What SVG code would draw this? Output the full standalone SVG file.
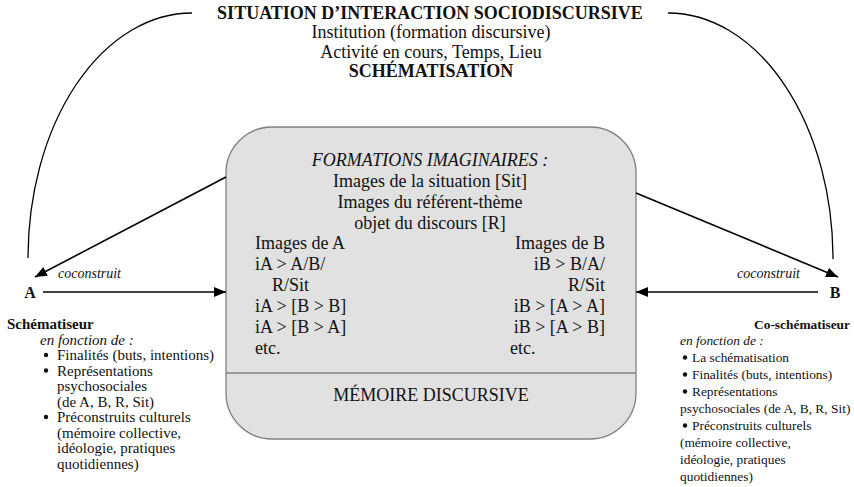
<svg xmlns="http://www.w3.org/2000/svg" width="854" height="487" viewBox="0 0 854 487">
<defs>
<marker id="ah" viewBox="0 0 12 10" refX="12" refY="5" markerWidth="12" markerHeight="10" markerUnits="userSpaceOnUse" orient="auto">
<path d="M0,0 L12,5 L0,10 Z" fill="#000"/>
</marker>
<style>
text{font-family:"Liberation Serif","Times New Roman",serif;fill:#111}
.t18{font-size:18px}
.b{font-weight:bold}
.i{font-style:italic}
.c{text-anchor:middle}
.r{text-anchor:end}
.sl{font-size:15px}
.sr{font-size:13.4px}
.arc{fill:none;stroke:#000;stroke-width:1.3}
.arr{fill:none;stroke:#000;stroke-width:1.6}
</style>
</defs>
<rect width="854" height="487" fill="#fff"/>

<g id="situation">
<text class="t18 b c" x="430" y="19">SITUATION D’INTERACTION SOCIODISCURSIVE</text>
<text class="t18 c" x="431" y="38">Institution (formation discursive)</text>
<text class="t18 c" x="431" y="57.5">Activité en cours, Temps, Lieu</text>
<text class="t18 b c" x="431" y="77">SCHÉMATISATION</text>
</g>

<g id="formations">
<rect x="226" y="127" width="410" height="312" rx="46" ry="46" fill="#e1e1e1" stroke="#808080" stroke-width="1.3"/>
<line x1="226" y1="373" x2="636" y2="373" stroke="#808080" stroke-width="1.3"/>
<text class="t18 i c" x="430" y="166">FORMATIONS IMAGINAIRES :</text>
<text class="t18 c" x="430" y="187">Images de la situation [Sit]</text>
<text class="t18 c" x="430" y="207.5">Images du référent-thème</text>
<text class="t18 c" x="430" y="228.5">objet du discours [R]</text>
<text class="t18" x="255" y="249">Images de A</text>
<text class="t18" x="255" y="270">iA &gt; A/B/</text>
<text class="t18" x="272" y="291">R/Sit</text>
<text class="t18" x="255" y="312">iA &gt; [B &gt; B]</text>
<text class="t18" x="255" y="333">iA &gt; [B &gt; A]</text>
<text class="t18" x="255" y="353.5">etc.</text>
<text class="t18 r" x="605" y="249">Images de B</text>
<text class="t18 r" x="605" y="270">iB &gt; B/A/</text>
<text class="t18 r" x="605" y="291">R/Sit</text>
<text class="t18 r" x="605" y="312">iB &gt; [A &gt; A]</text>
<text class="t18 r" x="605" y="333">iB &gt; [A &gt; B]</text>
<text class="t18" x="510" y="353.5">etc.</text>
<text class="t18 c" x="431" y="401">MÉMOIRE DISCURSIVE</text>
</g>

<g id="nodeA">
<text class="b c" x="30" y="298" font-size="16">A</text>
<text class="sl b" x="7" y="329">Schématiseur</text>
<text class="sl i" x="40" y="344.5">en fonction de :</text>
<circle cx="46" cy="355" r="2.2" fill="#111"/>
<text class="sl" x="57" y="360">Finalités (buts, intentions)</text>
<circle cx="46" cy="370.5" r="2.2" fill="#111"/>
<text class="sl" x="57" y="375.5">Représentations</text>
<text class="sl" x="57" y="391">psychosociales</text>
<text class="sl" x="57" y="406.5">(de A, B, R, Sit)</text>
<circle cx="46" cy="417" r="2.2" fill="#111"/>
<text class="sl" x="57" y="422">Préconstruits culturels</text>
<text class="sl" x="57" y="437.5">(mémoire collective,</text>
<text class="sl" x="57" y="453">idéologie, pratiques</text>
<text class="sl" x="57" y="468.5">quotidiennes)</text>
</g>

<g id="nodeB">
<text class="b c" x="835" y="298" font-size="16">B</text>
<text class="sr b r" x="850" y="329" font-size="14px">Co-schématiseur</text>
<text class="sr i" x="680" y="345">en fonction de :</text>
<circle cx="685" cy="357.5" r="2.2" fill="#111"/>
<text class="sr" x="692" y="362">La schématisation</text>
<circle cx="685" cy="374.5" r="2.2" fill="#111"/>
<text class="sr" x="692" y="379">Finalités (buts, intentions)</text>
<circle cx="685" cy="391.5" r="2.2" fill="#111"/>
<text class="sr" x="692" y="396">Représentations</text>
<text class="sr" x="680" y="413">psychosociales (de A, B, R, Sit)</text>
<circle cx="685" cy="425.5" r="2.2" fill="#111"/>
<text class="sr" x="692" y="430">Préconstruits culturels</text>
<text class="sr" x="680" y="447">(mémoire collective,</text>
<text class="sr" x="680" y="464">idéologie, pratiques</text>
<text class="sr" x="680" y="481">quotidiennes)</text>
</g>

<g id="connectors">
<path class="arc" d="M192,13 A164,245 0 0 0 28,258"/>
<path class="arc" d="M668,13 A165,246 0 0 1 833,259"/>
<line class="arr" x1="226" y1="177" x2="35" y2="277" marker-end="url(#ah)"/>
<line class="arr" x1="43" y1="292" x2="226" y2="292" marker-end="url(#ah)"/>
<line class="arr" x1="636" y1="193" x2="838" y2="277" marker-end="url(#ah)"/>
<line class="arr" x1="818" y1="292" x2="636" y2="292" marker-end="url(#ah)"/>
<text class="i" x="58" y="278" font-size="14">coconstruit</text>
<text class="i" x="737" y="278" font-size="14">coconstruit</text>
</g>
</svg>
